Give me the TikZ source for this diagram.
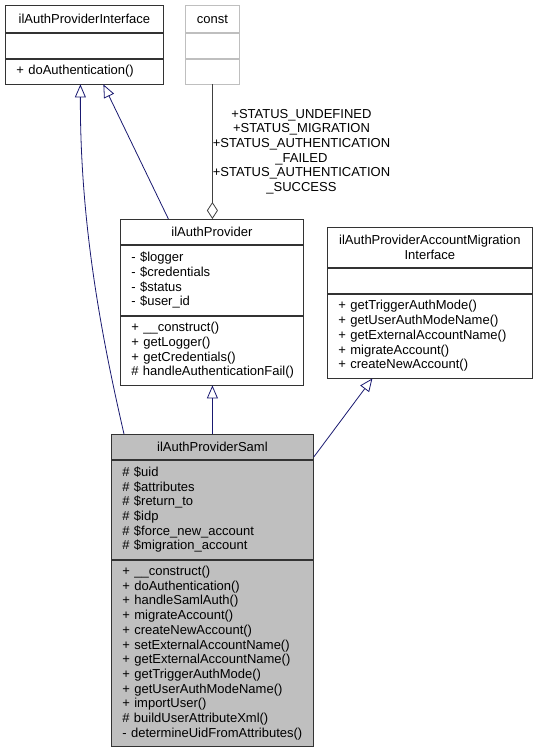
\documentclass[tikz,border=0pt]{standalone}
\usepackage{fontspec}
\setmainfont{Liberation Sans}
\usetikzlibrary{positioning, arrows.meta}
\definecolor{edgeblue}{HTML}{191970}
\definecolor{boxgrey}{HTML}{BFBFBF}
\definecolor{linegrey}{HTML}{404040}
\tikzset{
sect/.style={draw=black!80, line width=0.8pt, rectangle, inner xsep=11pt, inner ysep=0pt, text width=#1}, % one part of a class box
head/.style={sect=#1, align=center}, % the part with the class name
body/.style={sect=#1, align=left, execute at begin node={\hyphenpenalty=10000}}, % attributes and methods
inherit/.style={draw=edgeblue, line width=0.8pt, -{Triangle[open, length=13pt, width=11pt]}}, % points to the base class
usage/.style={draw=linegrey, line width=0.8pt, -{Diamond[open, length=17pt, width=11pt]}}, % const is used here
}

\begin{document}
\begin{tikzpicture}[x=1pt, y=-1pt, font=\fontsize{13}{14.7}\selectfont]
\useasboundingbox (0,0) rectangle (537,751);

            % ilAuthProviderInterface
            \node[head=136pt, minimum height=27pt, anchor=north west] (iface) at (5,5) {ilAuthProviderInterface};
            \node[body=136pt, minimum height=25pt, below=0pt of iface] (iface-a) {};
            \node[body=136pt, minimum height=25pt, below=0pt of iface-a] (iface-m) {+~doAuthentication()};

            % const
            \node[head=32pt, draw=boxgrey, minimum height=27pt, anchor=north west] (const) at (185,5) {const};
            \node[body=32pt, draw=boxgrey, minimum height=25pt, below=0pt of const] (const-a) {};
            \node[body=32pt, draw=boxgrey, minimum height=25pt, below=0pt of const-a] (const-m) {};

            % ilAuthProvider
            \node[head=161pt, minimum height=25pt, anchor=north west] (prov) at (120,219) {ilAuthProvider};
            \node[body=161pt, minimum height=70pt, below=0pt of prov] (prov-a) {-~\$logger\\-~\$credentials\\-~\$status\\-~\$user\_id};
            \node[body=161pt, minimum height=69pt, below=0pt of prov-a] (prov-m) {+~\_\_construct()\\+~getLogger()\\+~getCredentials()\\\#~handleAuthenticationFail()};

            % ilAuthProviderAccountMigrationInterface
            \node[head=183pt, minimum height=40pt, anchor=north west] (mig) at (327,227) {ilAuthProviderAccountMigration\\Interface};
            \node[body=183pt, minimum height=25pt, below=0pt of mig] (mig-a) {};
            \node[body=183pt, minimum height=84pt, below=0pt of mig-a] (mig-m) {+~getTriggerAuthMode()\\+~getUserAuthModeName()\\+~getExternalAccountName()\\+~migrateAccount()\\+~createNewAccount()};

            % ilAuthProviderSaml
            \node[head=180pt, fill=boxgrey, minimum height=25pt, anchor=north west] (saml) at (111,434) {ilAuthProviderSaml};
            \node[body=180pt, fill=boxgrey, minimum height=99pt, below=0pt of saml] (saml-a) {\#~\$uid\\\#~\$attributes\\\#~\$return\_to\\\#~\$idp\\\#~\$force\_new\_account\\\#~\$migration\_account};
            \node[body=180pt, fill=boxgrey, minimum height=186pt, below=0pt of saml-a] (saml-m) {+~\_\_construct()\\+~doAuthentication()\\+~handleSamlAuth()\\+~migrateAccount()\\+~createNewAccount()\\+~setExternalAccountName()\\+~getExternalAccountName()\\+~getTriggerAuthMode()\\+~getUserAuthModeName()\\+~importUser()\\\#~buildUserAttributeXml()\\-~determineUidFromAttributes()};

            \draw[inherit] ([xshift=13pt]saml.north west) .. controls (100,330) and (80,220) .. ([xshift=-4pt]iface-m.south);
            \draw[inherit] ([xshift=-43.5pt]prov.north) -- ([xshift=19pt]iface-m.south);
            \draw[usage] (const-m.south) -- (const-m.south |- prov.north) node[midway, anchor=west, inner sep=0pt, align=center] (status) {+STATUS\_UNDEFINED\\+STATUS\_MIGRATION\\+STATUS\_AUTHENTICATION\\\_FAILED\\+STATUS\_AUTHENTICATION\\\_SUCCESS};
            \draw[inherit] (saml.north) -- (saml.north |- prov-m.south);
            \draw[inherit] ([yshift=-23pt]saml.north east) -- ([xshift=-57.5pt]mig-m.south);
\end{tikzpicture}
\end{document}
